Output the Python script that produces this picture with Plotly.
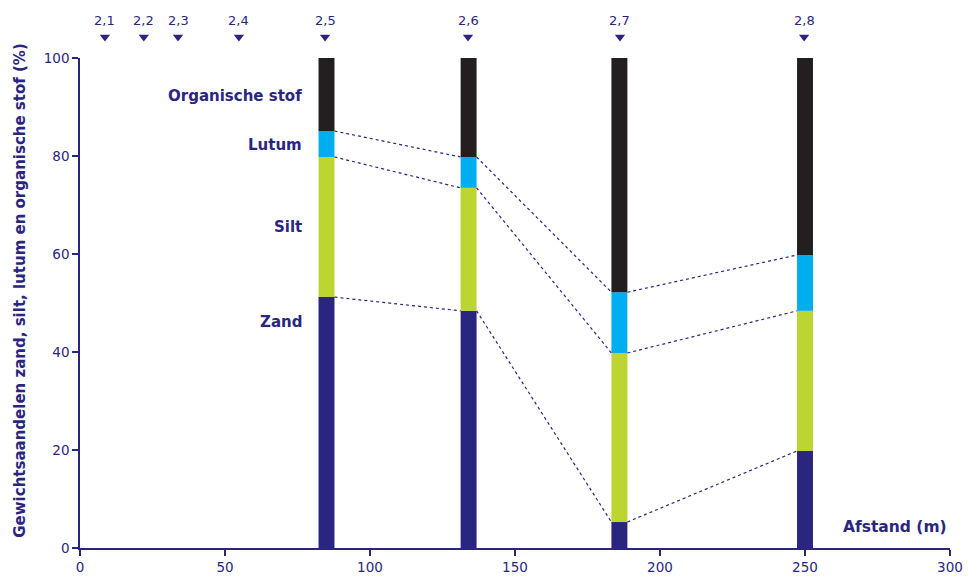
import plotly.graph_objects as go

# Data
stations = ["2,5", "2,6", "2,7", "2,8"]
afstand = [85, 134, 186, 250]
zand = [51.2, 48.4, 5.3, 19.8]
silt = [28.6, 25.1, 34.5, 28.6]
lutum = [5.3, 6.3, 12.4, 11.4]
organisch = [14.9, 20.2, 47.8, 40.2]

marker_labels = ["2,1", "2,2", "2,3", "2,4", "2,5", "2,6", "2,7", "2,8"]
marker_x = [8.6, 22, 33.8, 54.8, 84.5, 133.8, 186.2, 249.7]

NAVY = "#2a2680"
COLORS = {"Zand": "#2a2680", "Silt": "#bcd531", "Lutum": "#00aeef", "Organische stof": "#231f20"}
BAR_W = 5.5
FONT = "DejaVu Sans"

fig = go.Figure()

layers = [("Zand", zand), ("Silt", silt), ("Lutum", lutum), ("Organische stof", organisch)]
base = [0.0] * len(afstand)
bounds = []
for name, vals in layers:
    fig.add_trace(go.Bar(x=afstand, y=vals, base=base, width=BAR_W, name=name,
                         marker=dict(color=COLORS[name], line=dict(width=0)),
                         showlegend=False, hoverinfo="skip"))
    base = [b + v for b, v in zip(base, vals)]
    bounds.append(list(base))

# dotted connector lines for the three inner boundaries
for bnd in bounds[:3]:
    for i in range(len(afstand) - 1):
        fig.add_trace(go.Scatter(
            x=[afstand[i] + BAR_W / 2, afstand[i + 1] - BAR_W / 2],
            y=[bnd[i], bnd[i + 1]], mode="lines",
            line=dict(color=NAVY, width=1.2, dash="dot"),
            showlegend=False, hoverinfo="skip"))

# station markers on top (separate strip axis above the plot)
fig.add_trace(go.Scatter(
    x=marker_x, y=[0.42] * len(marker_x), mode="markers",
    marker=dict(symbol="triangle-down", size=9, color=NAVY),
    xaxis="x", yaxis="y2", cliponaxis=False,
    showlegend=False, hoverinfo="skip"))

annotations = []
for lbl, xv in zip(marker_labels, marker_x):
    annotations.append(dict(x=xv, y=0.76, xref="x", yref="y2", text=lbl,
                            showarrow=False, xanchor="center", yanchor="middle",
                            font=dict(family=FONT, size=13, color=NAVY)))
for name, yv in [("Organische stof", 92.2), ("Lutum", 82.2), ("Silt", 65.5), ("Zand", 46.1)]:
    annotations.append(dict(x=77.3, y=yv, xref="x", yref="y", text="<b>%s</b>" % name,
                            showarrow=False, xanchor="right", yanchor="middle",
                            font=dict(family=FONT, size=15, color=NAVY)))
annotations.append(dict(x=299.5, y=4.3, xref="x", yref="y", text="<b>Afstand (m)</b>",
                        showarrow=False, xanchor="right", yanchor="middle",
                        font=dict(family=FONT, size=15.5, color=NAVY)))
annotations.append(dict(x=-0.069, y=52.5, xref="paper", yref="y",
                        text="<b>Gewichtsaandelen zand, silt, lutum en organische stof (%)</b>",
                        showarrow=False, textangle=-90, xanchor="center", yanchor="middle",
                        font=dict(family=FONT, size=15, color=NAVY)))

DOMAIN_SPLIT = 0.9074

fig.update_layout(
    width=968, height=576,
    margin=dict(l=80, r=18, t=8, b=28, autoexpand=False),
    paper_bgcolor="white", plot_bgcolor="white",
    barmode="overlay",
    annotations=annotations,
    font=dict(family=FONT, size=13, color=NAVY),
    xaxis=dict(range=[0, 300], tickvals=[0, 50, 100, 150, 200, 250, 300], automargin=False,
               showgrid=False, zeroline=False, showline=True, linecolor=NAVY, linewidth=1.5,
               ticks="outside", ticklen=6, tickcolor=NAVY, tickwidth=1.5,
               tickfont=dict(family=FONT, size=13.5, color=NAVY)),
    yaxis=dict(range=[0, 100], tickvals=[0, 20, 40, 60, 80, 100], domain=[0, DOMAIN_SPLIT],
               automargin=False,
               showgrid=False, zeroline=False, showline=True, linecolor=NAVY, linewidth=1.5,
               ticks="outside", ticklen=6, tickcolor=NAVY, tickwidth=1.5,
               tickfont=dict(family=FONT, size=13.5, color=NAVY)),
    yaxis2=dict(range=[0, 1], domain=[DOMAIN_SPLIT, 1], visible=False, anchor="x",
                automargin=False, showgrid=False, zeroline=False),
)

fig.write_html("out.html", config={"displayModeBar": False},
               post_script="document.body.style.margin='0';document.body.style.overflow='hidden';")
